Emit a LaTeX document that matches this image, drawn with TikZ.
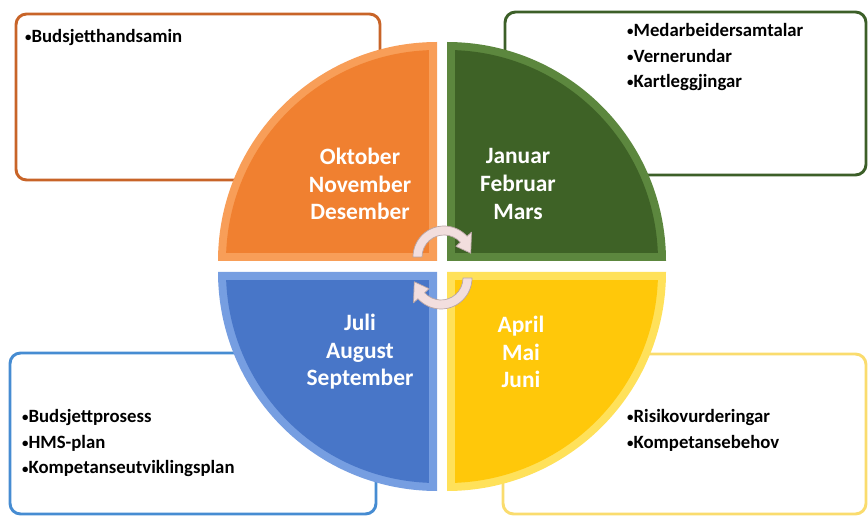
\documentclass[tikz,border=0pt]{standalone}
\usepackage{fontspec}
\setmainfont{Carlito}

\definecolor{oransje}{RGB}{240,128,48}
\definecolor{oransjekant}{RGB}{248,158,88}
\definecolor{oransjelinje}{RGB}{200,100,40}
\definecolor{gron}{RGB}{62,98,38}
\definecolor{gronkant}{RGB}{92,135,62}
\definecolor{gronlinje}{RGB}{60,95,40}
\definecolor{blaa}{RGB}{72,118,200}
\definecolor{blaakant}{RGB}{118,158,225}
\definecolor{blaalinje}{RGB}{70,140,210}
\definecolor{gul}{RGB}{255,200,10}
\definecolor{gulkant}{RGB}{255,225,90}
\definecolor{gullinje}{RGB}{250,220,110}
\definecolor{pilfyll}{RGB}{242,222,222}
\definecolor{pilkant}{RGB}{185,165,165}

\newcommand{\prikk}{{\fontsize{11}{11}\selectfont\raisebox{0.15ex}{•}}}

\tikzstyle{every node}=[font=\normalsize]
\tikzstyle{boks}=[line width=2.5pt, rounded corners=9pt, fill=white]
\tikzstyle{maanad}=[text=white, font=\bfseries\fontsize{20}{23.5}\selectfont, align=center, inner sep=0pt]
\tikzstyle{punkt}=[font=\bfseries\fontsize{16}{22}\selectfont, align=left, anchor=north west, inner sep=0pt]
\tikzstyle{pil}=[fill=pilfyll, draw=pilkant, line width=0.6pt, line join=round]

\begin{document}
\begin{tikzpicture}[x=0.03cm, y=-0.03cm]
            \useasboundingbox (0,0) rectangle (868,516);

            % 四个文本框
            \draw[boks, draw=oransjelinje] (16,14) rectangle (380,180);
            \draw[boks, draw=gronlinje] (505,12) rectangle (866,175);
            \draw[boks, draw=blaalinje] (10,353) rectangle (376,514);
            \draw[boks, draw=gullinje] (503,354) rectangle (866,514);

            % 橙色象限
            \fill[oransjekant] (437,261) -- (437,42) arc[start angle=270, end angle=180, radius=219] -- cycle;
            \begin{scope}
                \clip (437,261) circle (211);
                \fill[oransje] (429,253) rectangle (218,42);
            \end{scope}

            % 绿色象限
            \fill[gronkant] (447,261) -- (666,261) arc[start angle=360, end angle=270, radius=219] -- cycle;
            \begin{scope}
                \clip (447,261) circle (211);
                \fill[gron] (455,253) rectangle (666,42);
            \end{scope}

            % 蓝色象限
            \fill[blaakant] (437,272) -- (218,272) arc[start angle=180, end angle=90, radius=219] -- cycle;
            \begin{scope}
                \clip (437,272) circle (211);
                \fill[blaa] (429,280) rectangle (218,491);
            \end{scope}

            % 黄色象限
            \fill[gulkant] (447,272) -- (447,491) arc[start angle=90, end angle=0, radius=219] -- cycle;
            \begin{scope}
                \clip (447,272) circle (211);
                \fill[gul] (455,280) rectangle (666,491);
            \end{scope}

            % 循环箭头
            \coordinate (m1) at (444,257);
            \coordinate (m2) at (441,278);
            \draw[pil] ([shift={(180:31)}]m1) arc[start angle=180, end angle=318, radius=31]
                -- ([shift={(318:37)}]m1) -- ([shift={(352:27)}]m1) -- ([shift={(318:16)}]m1)
                -- ([shift={(318:22)}]m1) arc[start angle=318, end angle=180, radius=22] -- cycle;
            \draw[pil] ([shift={(0:31)}]m2) arc[start angle=0, end angle=138, radius=31]
                -- ([shift={(138:37)}]m2) -- ([shift={(172:27)}]m2) -- ([shift={(138:16)}]m2)
                -- ([shift={(138:22)}]m2) arc[start angle=138, end angle=0, radius=22] -- cycle;

            % 月份
            \node[maanad] (okt) at (360,184) {Oktober\\November\\Desember};
            \node[maanad] (jan) at (518,184) {Januar\\Februar\\Mars};
            \node[maanad] (jul) at (360,352) {Juli\\August\\September};
            \node[maanad] (apr) at (521,352) {April\\Mai\\Juni};

            % 框内条目
            \node[punkt] (budsjett) at (25,29) {\prikk Budsjetthandsamin};
            \node[punkt] (samtalar) at (627,23) {\prikk Medarbeidersamtalar\\\prikk Vernerundar\\\prikk Kartleggjingar};
            \node[punkt] (prosess) at (22,409) {\prikk Budsjettprosess\\\prikk HMS-plan\\\prikk Kompetanseutviklingsplan};
            \node[punkt] (risiko) at (627,409) {\prikk Risikovurderingar\\\prikk Kompetansebehov};
        \end{tikzpicture}
\end{document}
